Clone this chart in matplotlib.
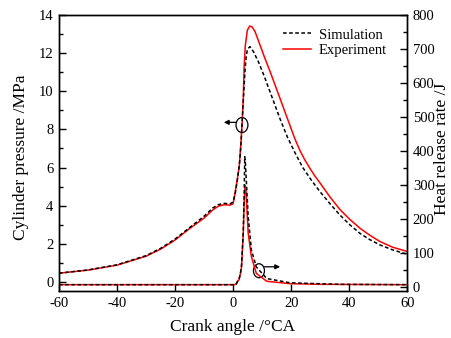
import numpy as np
import matplotlib
matplotlib.use("Agg")
import matplotlib.pyplot as plt
from matplotlib.patches import Ellipse

plt.rcParams['font.family'] = ['Liberation Serif', 'DejaVu Serif']
plt.rcParams['axes.unicode_minus'] = False

# cylinder pressure, MPa (left axis)
ca_p_exp = [-60, -50, -40, -30, -25, -20, -15, -10, -7, -5, -3, -1, 0, 0.5, 0.8, 1.2, 2.1, 2.7,
            3.05, 3.5, 3.8, 4.2, 4.9, 5.7, 6.5, 7.5, 9.2, 10.9, 12.7, 14.4, 16.1, 17.9, 19.6,
            21.3, 23, 24.7, 26.5, 28.2, 30, 33.4, 36.8, 40.2, 43.7, 47.1, 50.6, 55, 60]
p_exp = [0.46, 0.62, 0.88, 1.35, 1.72, 2.2, 2.8, 3.35, 3.78, 3.98, 4.05, 4.03, 4.1, 4.5, 4.8,
         5.15, 6.05, 7.3, 8.2, 9.6, 11.3, 12.4, 13.2, 13.42, 13.38, 13.15, 12.45, 11.75, 11.05,
         10.35, 9.65, 8.9, 8.2, 7.5, 6.9, 6.4, 5.95, 5.55, 5.18, 4.45, 3.8, 3.28, 2.82, 2.45,
         2.12, 1.82, 1.6]

ca_p_sim = [-60, -50, -40, -30, -25, -20, -15, -10, -7, -5, -3, -1, 0, 0.8, 1.5, 2.2, 2.7,
            3.05, 3.5, 4.1, 4.5, 4.9, 5.8, 7, 8.7, 10.7, 12.7, 14.4, 16.1, 18.7, 21.3, 24,
            26.9, 29.9, 33.4, 36.8, 40.2, 43.7, 47.1, 50.6, 55, 60]
p_sim = [0.46, 0.63, 0.9, 1.38, 1.76, 2.25, 2.85, 3.45, 3.88, 4.06, 4.12, 4.1, 4.2, 4.7, 5.4,
         6.2, 7.2, 8.2, 9.5, 11.1, 11.8, 12.2, 12.34, 12.08, 11.55, 10.8, 9.98, 9.28, 8.58,
         7.6, 6.78, 6.0, 5.35, 4.74, 4.1, 3.51, 3.0, 2.55, 2.22, 1.94, 1.68, 1.45]

# heat release rate, J/°CA (right axis)
ca_h_exp = [-60, 0, 1.0, 1.5, 2.0, 2.5, 2.9, 3.5, 3.8, 4.1, 4.4, 4.6, 5.2, 6.3, 8.0, 11.6,
            19.6, 30, 60]
hrr_exp = [8, 8, 9, 18, 22, 40, 60, 159, 250, 300, 290, 256, 159, 90, 41, 18, 11, 9, 8]

ca_h_sim = [-60, 0, 1.0, 1.5, 2.0, 2.5, 2.9, 3.5, 3.8, 4.0, 4.2, 4.6, 5.2, 6.3, 8.0, 11.6,
            19.6, 36.8, 60]
hrr_sim = [8, 8, 9, 17, 22, 40, 65, 165, 270, 384, 370, 305, 207, 110, 60, 26, 13.5, 9, 8]

fig = plt.figure(figsize=(4.52, 3.38), dpi=100)
ax = fig.add_axes([0.1305, 0.1376, 0.7705, 0.818])
ax2 = ax.twinx()

dash = (0, (2.4, 1.6))
l_exp, = ax.plot(ca_p_exp, p_exp, color='red', lw=1.1)
l_sim, = ax.plot(ca_p_sim, p_sim, color='black', lw=1.1, linestyle=dash)
ax2.plot(ca_h_exp, hrr_exp, color='red', lw=1.1)
ax2.plot(ca_h_sim, hrr_sim, color='black', lw=1.1, linestyle=dash)

ax.set_xlim(-60, 60)
ax.set_ylim(-0.5, 14)
ax2.set_ylim(-12, 800)
ax.set_xticks(np.arange(-60, 61, 20))
ax.set_yticks(np.arange(0, 15, 2))
ax.set_yticks(np.arange(1, 14, 2), minor=True)
ax2.set_yticks(np.arange(0, 801, 100))
ax2.set_yticks(np.arange(50, 800, 100), minor=True)

for a in (ax, ax2):
    for s in a.spines.values():
        s.set_linewidth(1.0)
ax.tick_params(axis='both', which='major', direction='in', length=5, width=1,
               labelsize=10.5, pad=4, top=False, right=False)
ax.tick_params(axis='y', which='minor', direction='in', length=3, width=1)
ax2.tick_params(axis='y', which='major', direction='in', length=5, width=1,
                labelsize=10.5, pad=4)
ax2.tick_params(axis='y', which='minor', direction='in', length=3, width=1)

fig.text(0.515, 0.033, 'Crank angle /°CA', ha='center', va='center', fontsize=12.5)
fig.text(0.046, 0.5355, 'Cylinder pressure /MPa', ha='center', va='center',
         rotation=90, fontsize=12.5)
fig.text(0.978, 0.56, 'Heat release rate /J', ha='center', va='center',
         rotation=90, fontsize=12.5)

# markers pointing to the axis each curve belongs to
ax.add_patch(Ellipse((3.05, 8.23), 4.1, 0.79, fill=False, ec='black', lw=0.9))
ax.annotate('', xy=(-3.2, 8.37), xytext=(1.0, 8.37),
            arrowprops=dict(arrowstyle='-|>', color='black', lw=0.9, mutation_scale=7,
                            shrinkA=0, shrinkB=0))
ax2.add_patch(Ellipse((8.9, 49), 3.8, 41, fill=False, ec='black', lw=0.9))
ax2.annotate('', xy=(16.2, 60.5), xytext=(10.7, 60.5),
             arrowprops=dict(arrowstyle='-|>', color='black', lw=0.9, mutation_scale=7,
                             shrinkA=0, shrinkB=0))

ax2.legend([l_sim, l_exp], ['Simulation', 'Experiment'], loc='upper left',
           bbox_to_anchor=(0.626, 0.916), bbox_transform=fig.transFigure,
           frameon=False, fontsize=10.5, handlelength=1.9, handletextpad=0.55,
           labelspacing=0.15, borderpad=0, borderaxespad=0)

fig.savefig('out.png', dpi=100)
